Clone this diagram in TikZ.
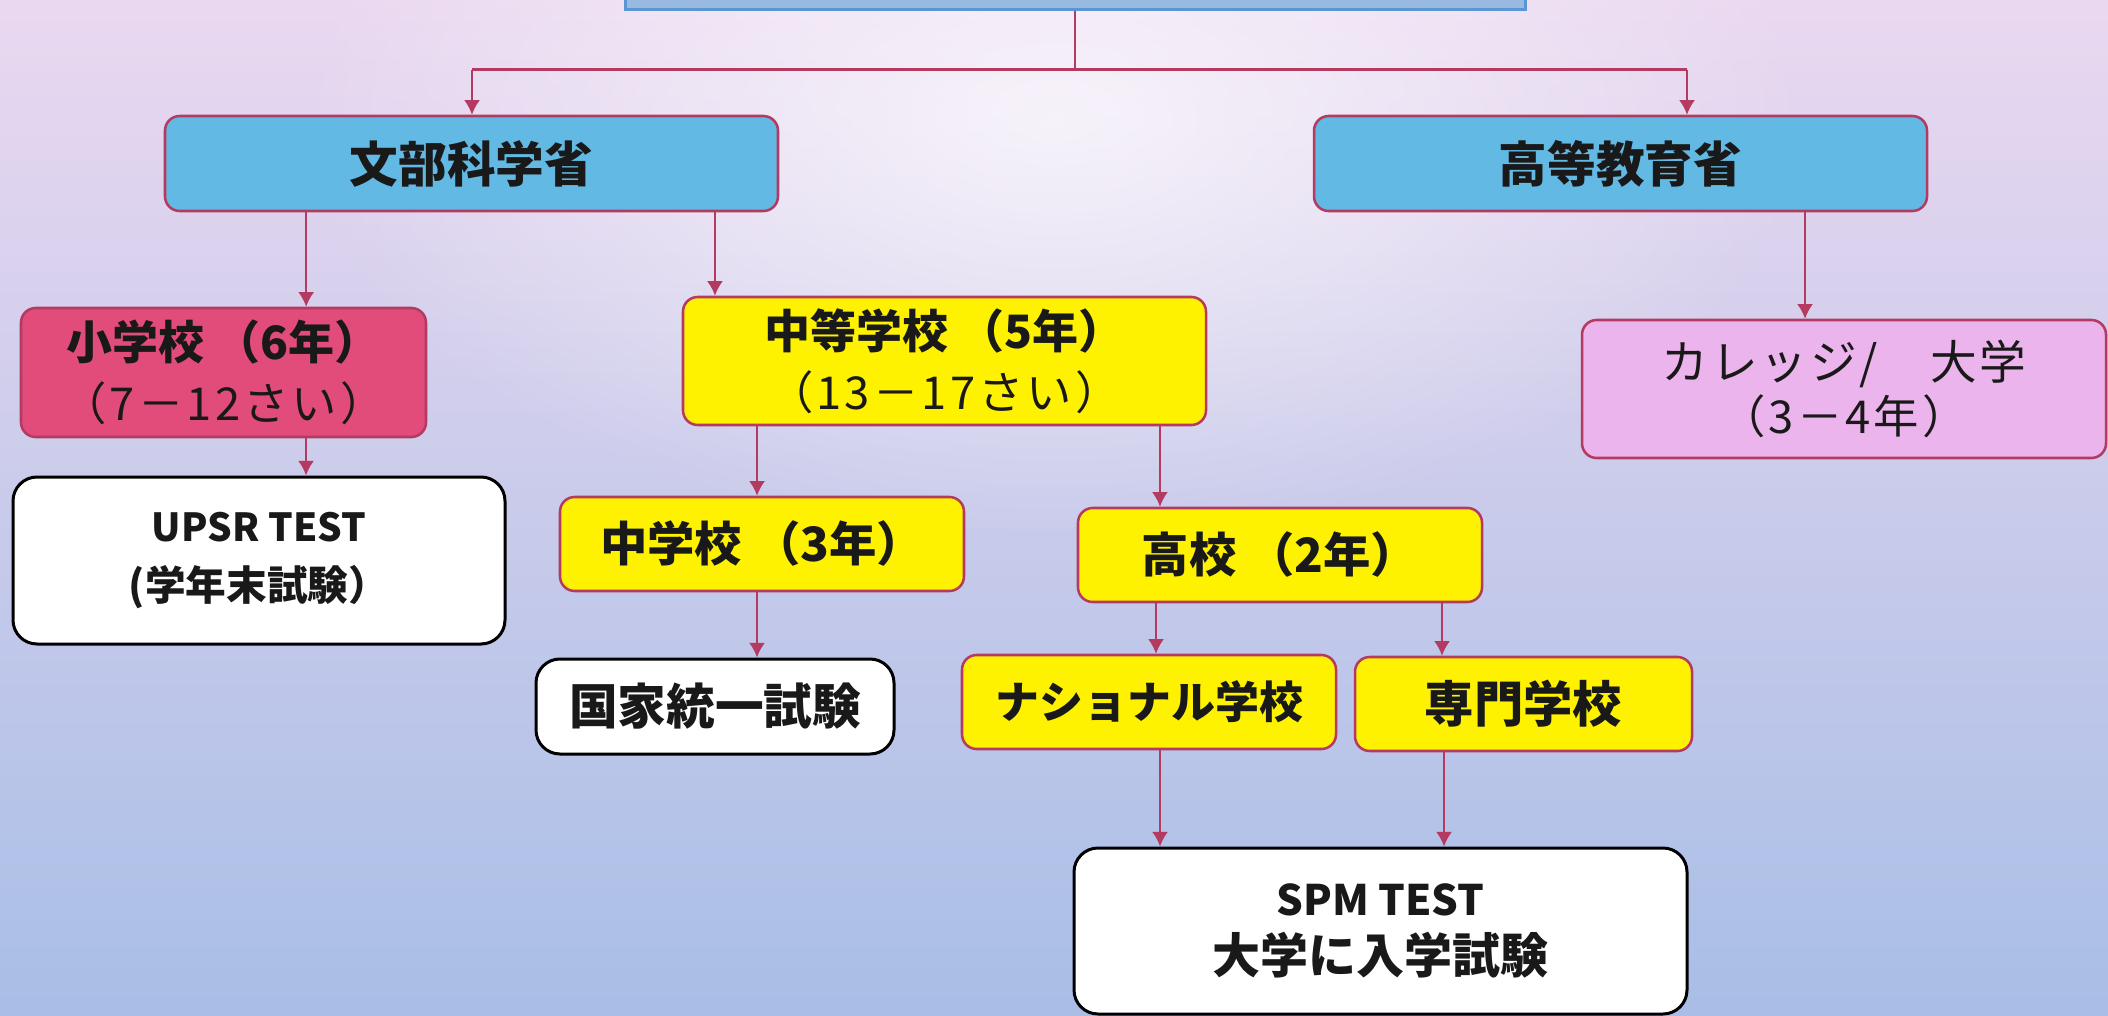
\documentclass[tikz,border=0pt]{standalone}
\usepackage{fontspec}
\setmainfont{Noto Sans CJK JP}
\usetikzlibrary{arrows.meta,fadings}

\definecolor{edgered}{RGB}{180,58,98}
\definecolor{minblue}{RGB}{98,185,228}
\definecolor{topblue}{RGB}{152,186,224}
\definecolor{topedge}{RGB}{92,150,210}
\definecolor{shopink}{RGB}{226,76,123}
\definecolor{uniplum}{RGB}{236,180,236}
\definecolor{bgtop}{RGB}{234,216,240}
\definecolor{bgmid}{RGB}{226,220,240}
\definecolor{bgbot}{RGB}{168,190,230}

\tikzfading[name=glow, inner color=transparent!0, outer color=transparent!100]

% age lines are set wider, as in the slide
\newcommand\agefont{\fontsize{34}{46}\selectfont\addfontfeatures{LetterSpace=7}}

\tikzset{every picture/.style={line width=0.75pt}}
\tikzset{
  box/.style={draw=edgered, line width=1.9pt, rounded corners=11pt, align=center, inner sep=0pt, text=black!90},
  testbox/.style={draw=black, fill=white, line width=2.25pt, rounded corners=18pt, align=center, inner sep=0pt, text=black!90},
  link/.style={draw=edgered, line width=1.5pt},
  arr/.style={link, -{Latex[length=11pt,width=12pt]}},
  big/.style={font=\bfseries\fontsize{36.5}{46}\selectfont},
  mid/.style={font=\bfseries\fontsize{35.5}{46}\selectfont},
  twoline/.style={font=\fontsize{34.5}{46}\selectfont},
}

\begin{document}
\begin{tikzpicture}[x=0.75pt,y=0.75pt,yscale=-1,xscale=1]
\useasboundingbox (0,0) rectangle (2108,1016);

%Background
\shade [top color=bgtop, middle color=bgmid, bottom color=bgbot] (0,0) rectangle (2108,1016);
\fill [white, path fading=glow, opacity=0.7] (1054,120) ellipse (760 and 420);

%Shape: top box (cut by the page)
\node [draw=topedge, fill=topblue, line width=2.25pt, minimum width=675pt, minimum height=52.5pt] (top) at (1075,-25) {};

%Ministries
\node [box, fill=minblue, big, minimum width=459.75pt, minimum height=71.25pt] (mext) at (471.5,163.5) {文部科学省};
\node [box, fill=minblue, big, minimum width=459.75pt, minimum height=71.25pt] (mhe) at (1620.5,163.5) {高等教育省};

%Schools
\node [box, fill=shopink, twoline, minimum width=303.75pt, minimum height=96.75pt] (sho) at (223.5,372.5)
  {{\bfseries 小学校 （6年）}\\{\agefont （7－12さい）}};
\node [box, fill=yellow, twoline, minimum width=392.25pt, minimum height=96pt] (chuto) at (944.5,361)
  {{\bfseries 中等学校 （5年）}\\{\agefont （13－17さい）}};
\node [box, fill=yellow, mid, minimum width=303pt, minimum height=70.5pt] (chu) at (762,544) {中学校 （3年）};
\node [box, fill=yellow, mid, minimum width=303pt, minimum height=70.5pt] (koko) at (1280,555) {高校 （2年）};
\node [box, fill=yellow, font=\bfseries\fontsize{33}{46}\selectfont, minimum width=280.5pt, minimum height=70.5pt] (natl) at (1149,702) {ナショナル学校};
\node [box, fill=yellow, font=\bfseries\fontsize{37}{46}\selectfont, minimum width=252.75pt, minimum height=70.5pt] (senmon) at (1523.5,704) {専門学校};
\node [box, fill=uniplum, font=\fontsize{35}{41}\selectfont, minimum width=393pt, minimum height=103.5pt] (univ) at (1844,389)
  {{\addfontfeatures{LetterSpace=6}カレッジ/　大学}\\{\agefont （3－4年）}};

%Tests
\node [testbox, font=\bfseries\fontsize{30.5}{44}\selectfont, minimum width=369pt, minimum height=125.25pt] (upsr) at (259,560.5)
  {{\fontsize{29}{44}\selectfont UPSR TEST}\\(学年末試験）};
\node [testbox, big, minimum width=268.5pt, minimum height=71.25pt] (kokka) at (715,706.5) {国家統一試験};
\node [testbox, font=\bfseries\fontsize{36}{43}\selectfont, minimum width=459.75pt, minimum height=124.5pt] (spm) at (1380.5,931)
  {{\fontsize{31.5}{43}\selectfont SPM TEST}\\大学に入学試験};

%Straight Lines
\coordinate (lft) at (472,70);
\coordinate (rgt) at (1687,70);
\draw [link] (top.south) -- (top.south |- lft);
\draw [link, line width=2.25pt] (lft) -- (rgt);
\draw [arr] (lft) -- (lft |- mext.north);
\draw [arr] (rgt) -- (rgt |- mhe.north);

\draw [arr] ([xshift=-124pt]mext.south) -- ([xshift=-124pt]mext.south |- sho.north);
\draw [arr] ([xshift=182.6pt]mext.south) -- ([xshift=182.6pt]mext.south |- chuto.north);
\draw [arr] ([xshift=138.4pt]mhe.south) -- ([xshift=138.4pt]mhe.south |- univ.north);

\draw [arr] ([xshift=61.9pt]sho.south) -- ([xshift=61.9pt]sho.south |- upsr.north);
\draw [arr] ([xshift=-140.6pt]chuto.south) -- ([xshift=-140.6pt]chuto.south |- chu.north);
\draw [arr] ([xshift=161.6pt]chuto.south) -- ([xshift=161.6pt]chuto.south |- koko.north);
\draw [arr] ([xshift=-3.75pt]chu.south) -- ([xshift=-3.75pt]chu.south |- kokka.north);
\draw [arr] ([xshift=-93pt]koko.south) -- ([xshift=-93pt]koko.south |- natl.north);
\draw [arr] ([xshift=121.5pt]koko.south) -- ([xshift=121.5pt]koko.south |- senmon.north);
\draw [arr] ([xshift=8.25pt]natl.south) -- ([xshift=8.25pt]natl.south |- spm.north);
\draw [arr] ([xshift=-59.6pt]senmon.south) -- ([xshift=-59.6pt]senmon.south |- spm.north);

\end{tikzpicture}
\end{document}
